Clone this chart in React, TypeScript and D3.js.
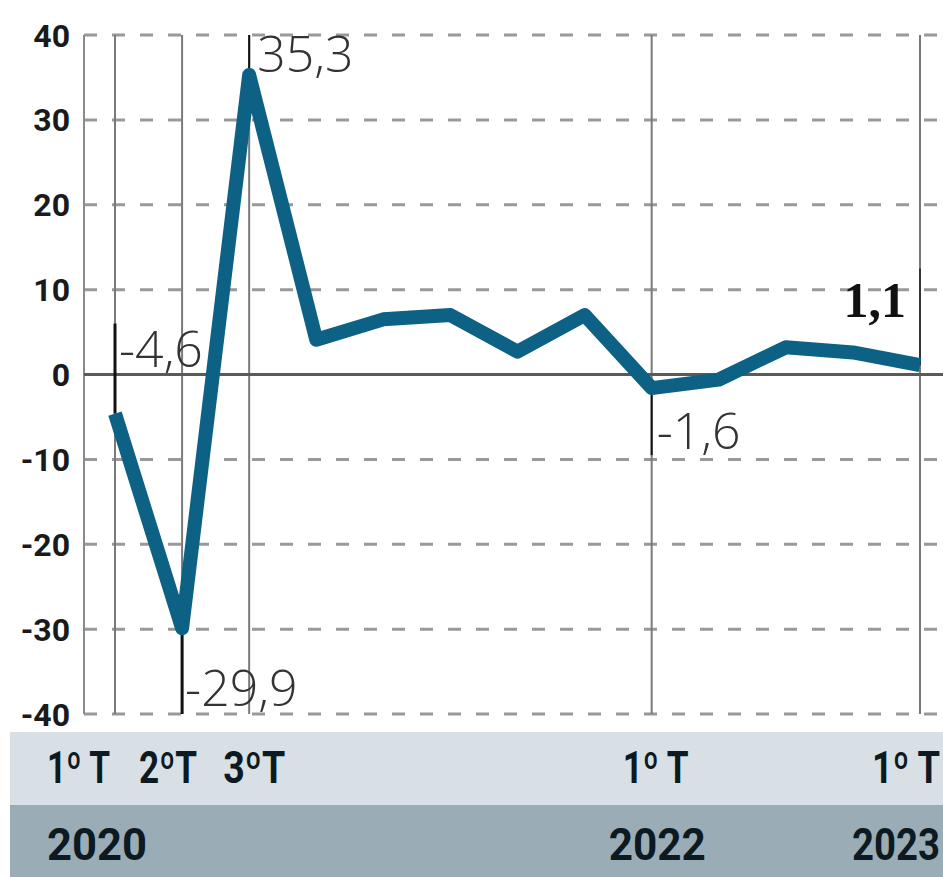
import React, { useLayoutEffect, useRef } from "react";
import * as d3 from "d3";

const quarters = ["1T20","2T20","3T20","4T20","1T21","2T21","3T21","4T21","1T22","2T22","3T22","4T22","1T23"];
const values = [-4.6, -29.9, 35.3, 4.1, 6.5, 7.0, 2.7, 7.0, -1.6, -0.6, 3.2, 2.6, 1.1];
const yTicks = [40, 30, 20, 10, 0, -10, -20, -30, -40];
const markedQuarters = [0, 1, 2, 8, 12];
const quarterLabels = ["1º T", "2ºT", "3ºT", "1º T", "1º T"];
const yearLabels = [{ q: 0, text: "2020" }, { q: 8, text: "2022" }, { q: 12, text: "2023" }];

const W = 943, H = 877;

export default function App() {
  const ref = useRef<SVGSVGElement>(null);
  const x = d3.scaleLinear().domain([0, quarters.length - 1]).range([115, 920]);
  const y = d3.scaleLinear().domain([-40, 40]).range([714, 35]);
  const line = d3.line<number>().x((_, i) => x(i)).y((d) => y(d));
  const left = 84;

  const qLabelDx = [-68, -43, -26, -29, -48];
  const qLabelW = [63, 58, 62, 66, 68];
  const yearDx = [-68, -43, -68];
  const yearW = [100, 97, 88];

  useLayoutEffect(() => {
    if (!ref.current) return;
    d3.select(ref.current).selectAll<SVGTextElement, unknown>("text.fit").each(function () {
      const el = d3.select(this);
      const w = this.getBBox().width;
      const tx = +el.attr("data-x"), ty = +el.attr("data-y"), tw = +el.attr("data-w");
      const s = w > 0 ? tw / w : 1;
      el.attr("transform", `translate(${tx},${ty}) scale(${s},1)`);
    });
  }, []);

  const valueFont = { fontFamily: "'Open Sans', 'DejaVu Sans', sans-serif", fontWeight: 300, fontSize: 50, fill: "#333" };

  return (
    <svg ref={ref} width={W} height={H} style={{ position: "absolute", left: 0, top: 0, background: "#fff" }}>
      <rect x={0} y={0} width={W} height={H} fill="#fff" />
      {/* dashed gridlines */}
      {yTicks.filter((t) => t !== 0).map((t) => (
        <line key={t} x1={left} x2={W} y1={y(t)} y2={y(t)} stroke="#999" strokeWidth={3} strokeDasharray="13 15" />
      ))}
      {/* left border */}
      <line x1={left} x2={left} y1={y(40)} y2={y(-40)} stroke="#8a8a8a" strokeWidth={2} />
      {/* vertical quarter lines */}
      {markedQuarters.map((q) => (
        <line key={q} x1={x(q)} x2={x(q)} y1={y(40)} y2={y(-40)} stroke="#7a7a7a" strokeWidth={2} />
      ))}
      {/* zero line */}
      <line x1={left} x2={W} y1={y(0)} y2={y(0)} stroke="#5a5a5a" strokeWidth={3} />
      {/* y tick labels */}
      {yTicks.map((t) => (
        <text key={t} x={70} y={y(t)} dy="0.36em" textAnchor="end"
          style={{ fontFamily: "Roboto, 'Liberation Sans', sans-serif", fontWeight: 700, fontSize: 32, fill: "#1a1a1a" }}>
          {t}
        </text>
      ))}
      {/* annotation ticks */}
      <line x1={x(0)} x2={x(0)} y1={y(6)} y2={y(values[0])} stroke="#111" strokeWidth={3} />
      <line x1={x(1)} x2={x(1)} y1={y(values[1])} y2={y(-40)} stroke="#111" strokeWidth={3} />
      <line x1={x(2)} x2={x(2)} y1={y(40)} y2={y(values[2])} stroke="#111" strokeWidth={2} />
      <line x1={x(8)} x2={x(8)} y1={y(values[8])} y2={y(-9.5)} stroke="#111" strokeWidth={2} />
      <line x1={x(12)} x2={x(12)} y1={y(12.5)} y2={y(values[12])} stroke="#333" strokeWidth={2} />
      {/* main line */}
      <path d={line(values) || ""} fill="none" stroke="#0c6184" strokeWidth={14} strokeLinejoin="round" strokeLinecap="butt" />
      {/* value labels */}
      <text x={x(0) + 4} y={y(0) - 8} style={valueFont}>{"-4,6"}</text>
      <text x={x(2) + 8} y={y(values[2]) - 3} style={valueFont}>{"35,3"}</text>
      <text x={x(1) + 3} y={y(-40) - 8} style={valueFont}>{"-29,9"}</text>
      <text x={x(8) + 5} y={y(values[8]) + 61} style={valueFont}>{"-1,6"}</text>
      <text x={x(12) - 14} y={y(values[12]) - 48} textAnchor="end"
        style={{ fontFamily: "'Liberation Serif', serif", fontWeight: 700, fontSize: 50, fill: "#111" }}>
        {"1,1"}
      </text>
      {/* bottom bands */}
      <rect x={10} y={732} width={W - 10} height={73} fill="#d8e0e5" />
      <rect x={10} y={805} width={W - 10} height={72} fill="#9aadb7" />
      {markedQuarters.map((q, i) => (
        <text key={q} className="fit" data-x={x(q) + qLabelDx[i]} data-y={783} data-w={qLabelW[i]}
          transform={`translate(${x(q) + qLabelDx[i]},783) scale(0.85,1)`}
          style={{ fontFamily: "Roboto, 'Liberation Sans', sans-serif", fontWeight: 700, fontSize: 44, fill: "#0d1a22" }}>
          {quarterLabels[i]}
        </text>
      ))}
      {yearLabels.map((d, i) => (
        <text key={d.text} className="fit" data-x={x(d.q) + yearDx[i]} data-y={860} data-w={yearW[i]}
          transform={`translate(${x(d.q) + yearDx[i]},860) scale(0.9,1)`}
          style={{ fontFamily: "Roboto, 'Liberation Sans', sans-serif", fontWeight: 700, fontSize: 45, fill: "#0d1a22" }}>
          {d.text}
        </text>
      ))}
    </svg>
  );
}
